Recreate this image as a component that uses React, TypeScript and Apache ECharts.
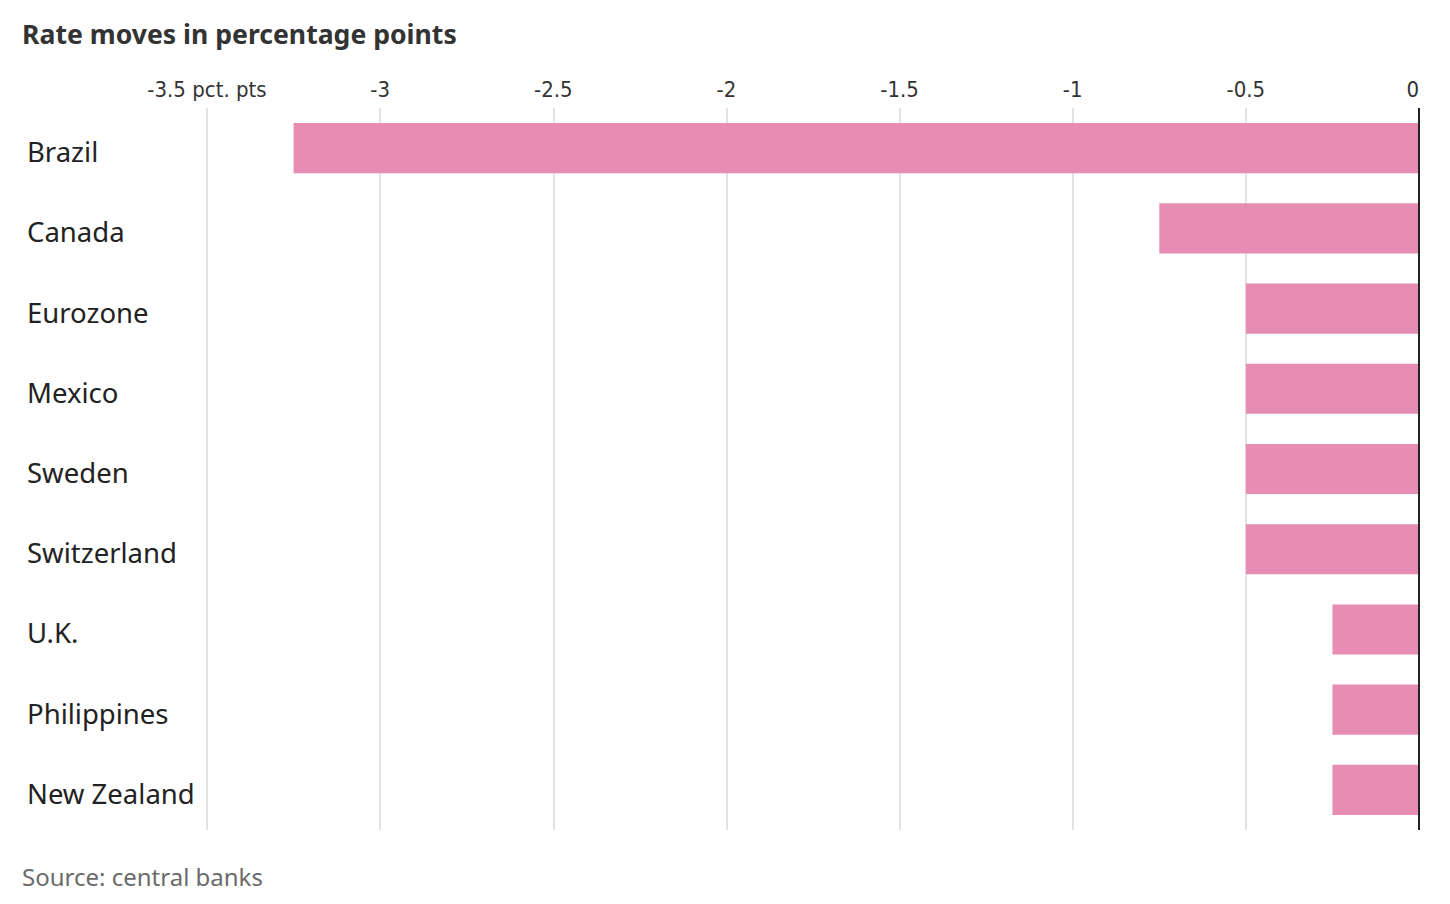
import React, { useEffect, useRef } from "react";
import * as echarts from "echarts";

const categories = ["Brazil", "Canada", "Eurozone", "Mexico", "Sweden", "Switzerland", "U.K.", "Philippines", "New Zealand"];
const values = [-3.25, -0.75, -0.5, -0.5, -0.5, -0.5, -0.25, -0.25, -0.25];
const titleText = "Rate moves in percentage points";
const sourceText = "Source: central banks";

export default function App() {
  const ref = useRef<HTMLDivElement>(null);
  useEffect(() => {
    if (!ref.current) return;
    const chart = echarts.init(ref.current, null, { renderer: "svg" });
    chart.setOption({
      animation: false,
      backgroundColor: "#ffffff",
      textStyle: { fontFamily: "Noto Sans" },
      graphic: [
        {
          type: "text",
          left: 14,
          top: 12,
          style: { text: titleText, font: "bold 26.6px 'Noto Sans'", fill: "#333333" },
        },
        {
          type: "text",
          left: 14,
          top: 856,
          style: { text: sourceText, font: "24px 'Noto Sans'", fill: "#6b6b6b" },
        },
      ],
      grid: { left: 199, right: 23, top: 100, bottom: 66, containLabel: false },
      xAxis: {
        type: "value",
        position: "top",
        min: -3.5,
        max: 0,
        interval: 0.5,
        axisLine: { show: false },
        axisTick: { show: false },
        splitLine: { show: true, lineStyle: { color: "#e2e2e2", width: 2 } },
        axisLabel: {
          margin: 8,
          fontSize: 22,
          color: "#333333",
          alignMaxLabel: "right",
          fontFamily: "'DejaVu Sans Condensed', 'Liberation Sans Narrow', 'Noto Sans'",
          formatter: (v: number) => (v === -3.5 ? "-3.5 pct. pts" : String(v)),
        },
      },
      yAxis: {
        type: "category",
        data: categories,
        inverse: true,
        position: "left",
        axisLine: { show: false },
        axisTick: { show: false },
        axisLabel: {
          show: true,
          align: "left",
          margin: 180,
          fontSize: 27.5,
          verticalAlign: "top",
          lineHeight: 7,
          color: "#222222",
          fontFamily: "Noto Sans",
        },
      },
      series: [
        {
          type: "bar",
          data: values,
          barCategoryGap: "37.5%",
          itemStyle: { color: "#e78cb3" },
          markLine: {
            silent: true,
            symbol: ["none", "none"],
            label: { show: false },
            lineStyle: { color: "#222222", width: 2, type: "solid" },
            data: [{ xAxis: 0 }],
          },
        },
      ],
    });
    return () => chart.dispose();
  }, []);
  return <div ref={ref} style={{ width: 1434, height: 888 }} />;
}
